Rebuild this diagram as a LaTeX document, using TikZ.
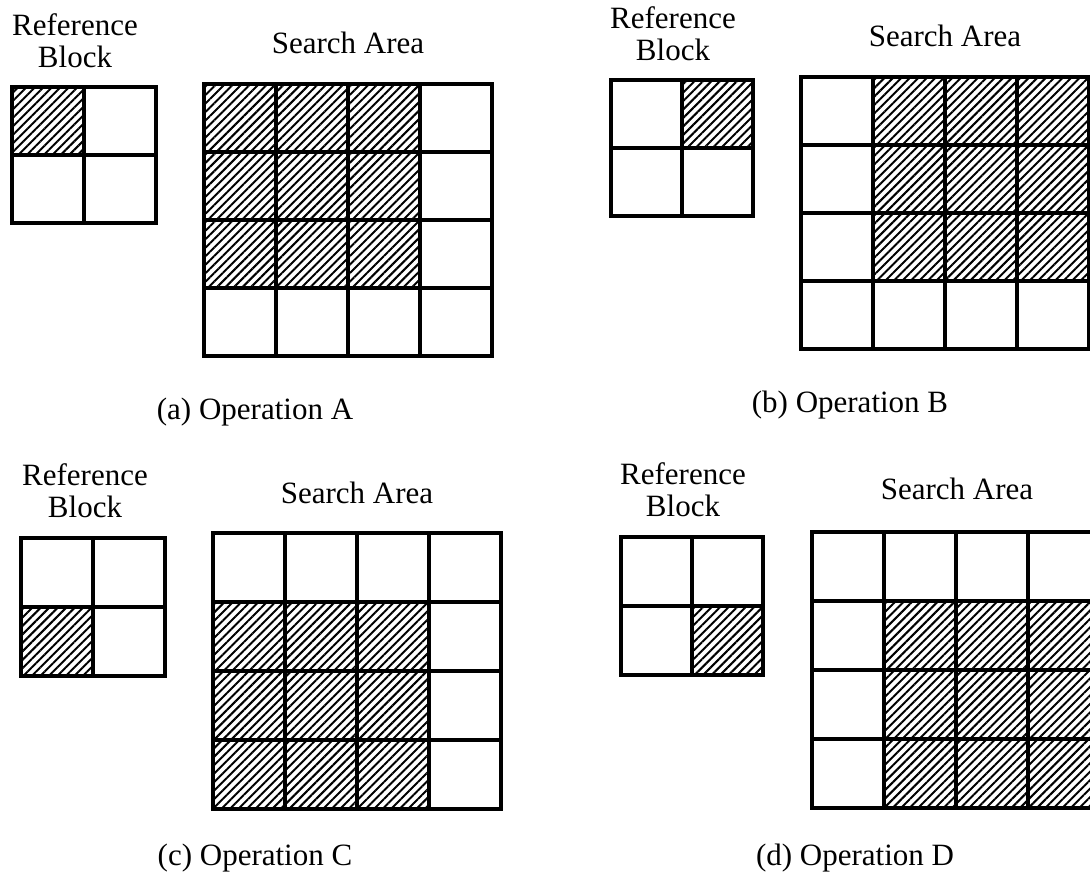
\documentclass[tikz,border=0pt]{standalone}
\usepackage{fontspec}
\setmainfont{Liberation Serif}
\usetikzlibrary{patterns.meta}

\tikzset{
  cellbox/.style={draw=black, line width=1.7pt},
  hatched/.style={pattern={Lines[angle=45,distance=3pt,line width=1pt]}},
  lbl/.style={font=\fontsize{15.5}{16}\selectfont, align=center, inner sep=0pt}
}

% x0, y0, cell width, cell height, cells per side
\newcommand{\cellgrid}[5]{%
  \foreach \i in {1,...,#5}{\foreach \j in {1,...,#5}{
    \draw[cellbox] ({#1+(\i-1)*#3},{#2+(\j-1)*#4}) rectangle ++(#3,#4);}}}

\begin{document}
\begin{tikzpicture}[x=0.5pt,y=-0.5pt]
\useasboundingbox (0,0) rectangle (1090,886);
\clip (0,0) rectangle (1090,886);

% (a) Operation A
\fill[hatched] (12,87) rectangle ++(72,68);
\cellgrid{12}{87}{72}{68}{2}
\fill[hatched] (204,84) rectangle ++(216,204);
\cellgrid{204}{84}{72}{68}{4}
\node[lbl] (refA) at (75,41) {Reference\\Block};
\node[lbl] (areaA) at (348,43) {Search Area};
\node[lbl] (capA) at (255,412) {(a) Operation A};

% (b) Operation B
\fill[hatched] (682,80) rectangle ++(71,68);
\cellgrid{611}{80}{71}{68}{2}
\fill[hatched] (873,77) rectangle ++(216,204);
\cellgrid{801}{77}{72}{68}{4}
\node[lbl] (refB) at (673,34) {Reference\\Block};
\node[lbl] (areaB) at (945,36) {Search Area};
\node[lbl] (capB) at (850,405) {(b) Operation B};

% (c) Operation C
\fill[hatched] (21,607) rectangle ++(72,69);
\cellgrid{21}{538}{72}{69}{2}
\fill[hatched] (213,602) rectangle ++(216,207);
\cellgrid{213}{533}{72}{69}{4}
\node[lbl] (refC) at (85,491) {Reference\\Block};
\node[lbl] (areaC) at (357,493) {Search Area};
\node[lbl] (capC) at (255,858) {(c) Operation C};

% (d) Operation D
\fill[hatched] (692,606) rectangle ++(71,69);
\cellgrid{621}{537}{71}{69}{2}
\fill[hatched] (884,601) rectangle ++(216,207);
\cellgrid{812}{532}{72}{69}{4}
\node[lbl] (refD) at (683,490) {Reference\\Block};
\node[lbl] (areaD) at (957,489) {Search Area};
\node[lbl] (capD) at (855,858) {(d) Operation D};
\end{tikzpicture}
\end{document}
